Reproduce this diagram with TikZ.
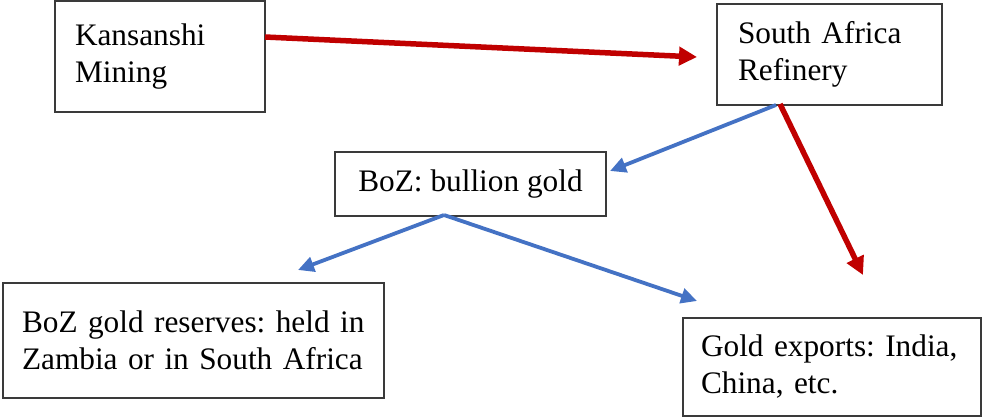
\documentclass[tikz,border=0pt]{standalone}
\usepackage{fontspec}
\setmainfont{Liberation Serif}
\usetikzlibrary{arrows.meta}
\definecolor{arrred}{HTML}{C00000}
\definecolor{arrblue}{HTML}{4472C4}
\definecolor{boxline}{HTML}{3A3A3A}
\begin{document}
\frenchspacing
\begin{tikzpicture}[x=1pt,y=-1pt,
  box/.style={draw=boxline, line width=1.4pt, rectangle, inner ysep=0pt,
    align=left, font=\fontsize{31.3}{37}\selectfont\frenchspacing, anchor=center},
  redarrow/.style={draw=arrred, line width=5.5pt,
    -{Triangle[length=18pt,width=18pt]}},
  bluearrow/.style={draw=arrblue, line width=3.8pt,
    -{Triangle[length=16pt,width=15pt]}}]
\useasboundingbox (0,0) rectangle (986,418);

\node[box, inner xsep=20pt, text width=170pt, minimum height=111pt] (kans) at (160,56.5)
  {\mbox{Kansanshi}\\\mbox{Mining}};
\node[box, inner xsep=21pt, text width=183pt, minimum height=101pt] (sa) at (829.5,54.5)
  {\mbox{South Africa}\\\mbox{Refinery}};
\node[box, inner xsep=0pt, minimum width=271pt, minimum height=64pt, align=center] (boz) at (470.5,184)
  {BoZ: bullion gold};
\node[box, inner xsep=19pt, text width=343pt, minimum height=115pt] (res) at (193.5,340.5)
  {\mbox{BoZ gold reserves: held in}\\\mbox{Zambia or in South Africa}};
\node[box, inner xsep=18pt, text width=262pt, minimum height=98pt] (exp) at (832,367)
  {\mbox{Gold exports: India,}\\\mbox{China, etc.}};

\coordinate (r1s) at (265,37);
\coordinate (r1e) at (697,57);
\coordinate (r2s) at (780,104);
\coordinate (r2e) at (863,275);
\coordinate (b1s) at (776,105);
\coordinate (b1e) at (610,171);
\coordinate (b2s) at (444,215);
\coordinate (b2e) at (298,270);
\coordinate (b3e) at (697,301);

\draw[bluearrow] (b1s) -- (b1e);
\draw[bluearrow] (b2s) -- (b2e);
\draw[bluearrow] (b2s) -- (b3e);
\draw[redarrow] (r1s) -- (r1e);
\draw[redarrow] (r2s) -- (r2e);
\end{tikzpicture}
\end{document}
